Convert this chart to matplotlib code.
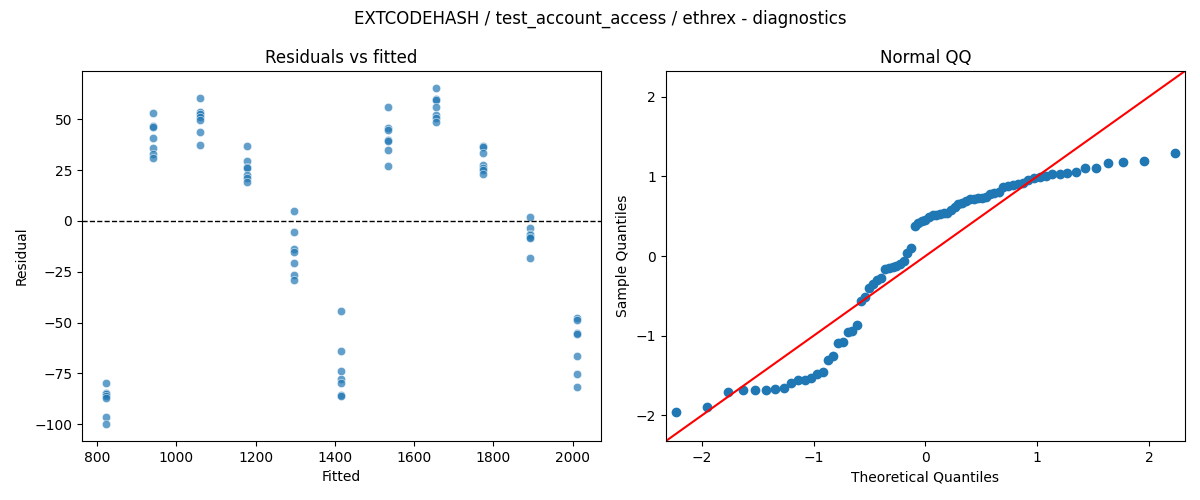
import matplotlib
matplotlib.use("Agg")
import matplotlib.pyplot as plt
import seaborn as sns
import numpy as np
from statistics import NormalDist

# fitted value of each group (x positions in the residual plot)
fitted_levels = [821, 940, 1059, 1178, 1297, 1416, 1535, 1655, 1774, 1893, 2012]

# residuals, one list per fitted level
residuals = [
    [-79.5, -84.5, -85, -86, -87, -96.5, -100],
    [53, 46.5, 46, 41, 36, 33, 31],
    [60.5, 53.5, 52.5, 51, 49.5, 44, 37.5],
    [37, 29.5, 26.5, 26, 22.5, 21, 19],
    [5, -5.5, -14, -15.5, -20.5, -26.5, -29],
    [-44.5, -64, -74, -78, -79.5, -85.5, -86],
    [56, 45.5, 44.5, 40, 39.5, 35, 27],
    [65.5, 60, 59.5, 56, 52, 50.5, 48.5],
    [37, 36.5, 33.5, 27.5, 26, 25, 23],
    [2, -3.5, -6.5, -7, -8, -8.5, -18],
    [-48, -48.5, -55, -55.5, -66.5, -75.5, -81.5],
]

fitted = np.repeat(fitted_levels, [len(r) for r in residuals])
resid = np.concatenate([np.array(r, dtype=float) for r in residuals])

fig, axes = plt.subplots(1, 2, figsize=(12, 5), dpi=100)
fig.subplots_adjust(left=0.0683, right=0.9875, top=0.858, bottom=0.118, wspace=0.125)
fig.suptitle("EXTCODEHASH / test_account_access / ethrex - diagnostics")

# residuals vs fitted
ax = axes[0]
sns.scatterplot(x=fitted, y=resid, alpha=0.7, ax=ax)
ax.axhline(0, color="black", linestyle="--", linewidth=1)
ax.set_title("Residuals vs fitted")
ax.set_xlabel("Fitted")
ax.set_ylabel("Residual")

# normal QQ of the standardized residuals
ax = axes[1]
n = len(resid)
sample_q = np.sort((resid - resid.mean()) / resid.std())
theo_q = np.array([NormalDist().inv_cdf(i / (n + 1)) for i in range(1, n + 1)])
ax.plot(theo_q, sample_q, marker="o", linestyle="None", color="C0", markersize=6)
lim = 2.32
ax.plot([-lim, lim], [-lim, lim], color="red")
ax.set_xlim(-lim, lim)
ax.set_ylim(-lim, lim)
ax.set_title("Normal QQ")
ax.set_xlabel("Theoretical Quantiles")
ax.set_ylabel("Sample Quantiles")

plt.savefig("out.png")
